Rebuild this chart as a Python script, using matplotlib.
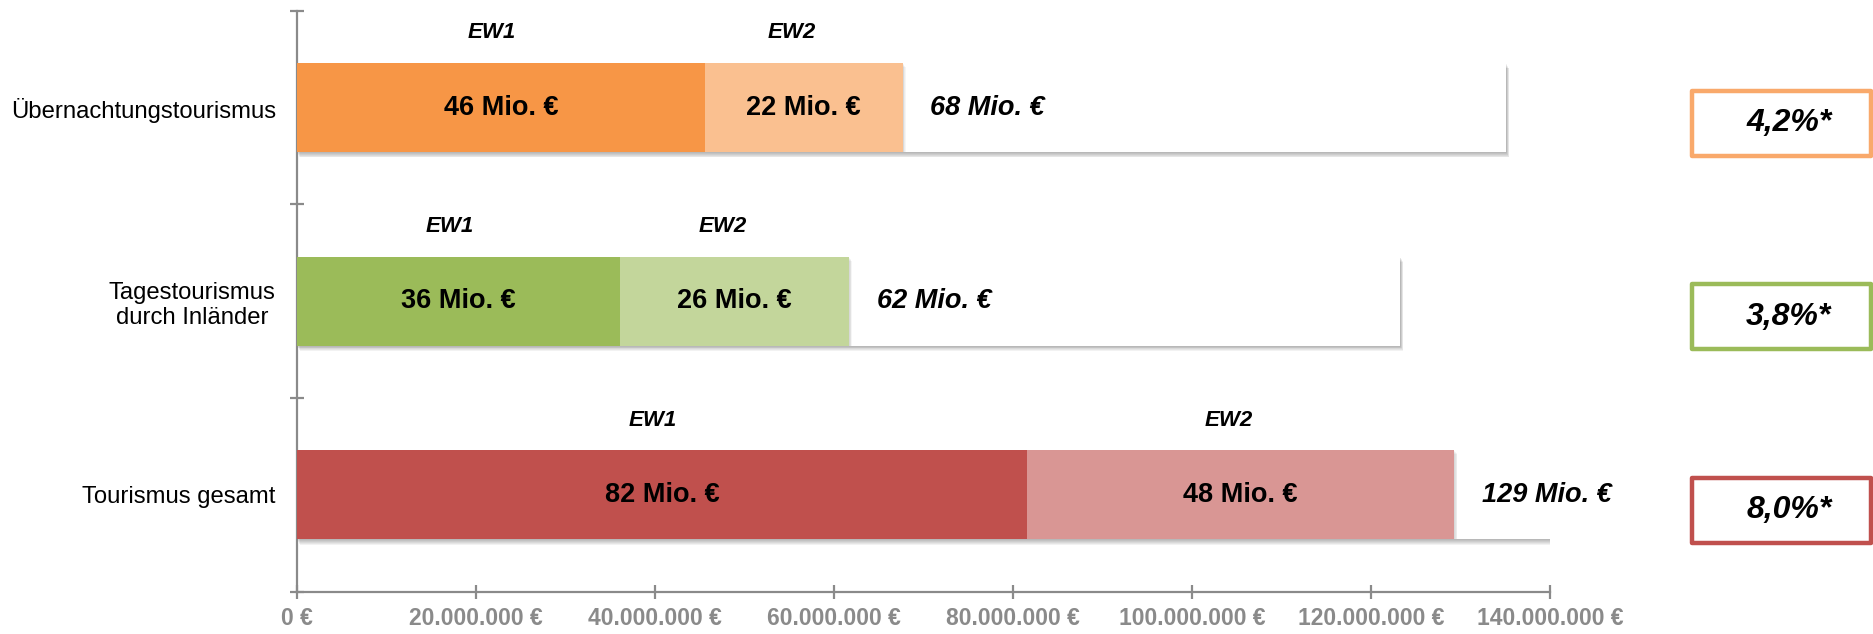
import matplotlib
matplotlib.use('Agg')
import matplotlib.pyplot as plt
from matplotlib.patches import Rectangle
from matplotlib.transforms import blended_transform_factory
from matplotlib.ticker import FuncFormatter

plt.rcParams['font.family'] = ['Liberation Sans', 'DejaVu Sans']

# data (bottom row first)
categories = ['Tourismus gesamt', 'Tagestourismus\ndurch Inländer', 'Übernachtungstourismus']
ew1 = [81.6e6, 36.1e6, 45.6e6]
ew2 = [47.7e6, 25.6e6, 22.1e6]
backdrop = [140.0e6, 123.3e6, 135.1e6]
ew1_labels = ['82 Mio. €', '36 Mio. €', '46 Mio. €']
ew2_labels = ['48 Mio. €', '26 Mio. €', '22 Mio. €']
total_labels = ['129 Mio. €', '62 Mio. €', '68 Mio. €']
shares = ['8,0%*', '3,8%*', '4,2%*']
xticks = [0, 20e6, 40e6, 60e6, 80e6, 100e6, 120e6, 140e6]

dark = ['#C0504D', '#9BBB59', '#F79646']
light = ['#D99694', '#C3D69B', '#FAC090']
frame = ['#C0504D', '#9BBB59', '#F9A96B']
grey = '#8A8A8A'

fig = plt.figure(figsize=(18.74, 6.34), dpi=100)
ax = fig.add_axes([0.1583, 0.0667, 0.6688, 0.9164])
ax.set_xlim(0, 140e6)
ax.set_ylim(-0.5, 2.5)

h = 0.46
px_x = 140e6 / (0.6688 * 1874)
px_y = 3.0 / (0.9164 * 634)
ys = list(range(len(categories)))

for i, y in enumerate(ys):
    # soft drop shadow under the white backdrop bar
    for k in range(1, 7):
        ax.barh(y - k * 0.9 * px_y, backdrop[i], left=k * 0.5 * px_x, height=h,
                color='black', alpha=0.05, linewidth=0, zorder=1)
    ax.barh(y, backdrop[i], height=h, color='white', linewidth=0, zorder=2)
    end = ew1[i] + ew2[i]
    for k in range(1, 5):
        ax.barh(y - 0.5 * k * px_y, k * 0.8 * px_x, left=end, height=h - k * px_y,
                color='black', alpha=0.04, linewidth=0, zorder=2.5)
    ax.barh(y, ew1[i], height=h, color=dark[i], linewidth=0, zorder=3)
    ax.barh(y, ew2[i], left=ew1[i], height=h, color=light[i], linewidth=0, zorder=3)

    ax.text(ew1[i] / 2, y, ew1_labels[i], ha='center', va='center',
            fontsize=19.5, fontweight='bold', zorder=4)
    ax.text(ew1[i] + ew2[i] / 2, y, ew2_labels[i], ha='center', va='center',
            fontsize=19.5, fontweight='bold', zorder=4)
    ax.text(end + 3.1e6, y, total_labels[i], ha='left', va='center',
            fontsize=19.5, fontweight='bold', fontstyle='italic', zorder=4)
    ax.text(ew1[i] / 2 - 1.0e6, y + 0.385, 'EW1', ha='center', va='center',
            fontsize=16, fontweight='bold', fontstyle='italic')
    ax.text(ew1[i] + ew2[i] / 2 - 1.3e6, y + 0.385, 'EW2', ha='center', va='center',
            fontsize=16, fontweight='bold', fontstyle='italic')

# share boxes on the right
trans = blended_transform_factory(fig.transFigure, ax.transData)
for i, y in enumerate(ys):
    yc = y - 0.08
    box = Rectangle((0.9029, yc - 0.168), 0.0955, 0.336, fill=False,
                    edgecolor=frame[i], linewidth=3.2, joinstyle='round',
                    transform=trans, clip_on=False)
    fig.add_artist(box)
    fig.text(0.9546, yc, shares[i], transform=trans,
             ha='center', va='center', fontsize=23, fontweight='bold', fontstyle='italic')

# axes styling
for s in ['top', 'right']:
    ax.spines[s].set_visible(False)
for s in ['left', 'bottom']:
    ax.spines[s].set_color(grey)
    ax.spines[s].set_linewidth(1.6)

ax.set_xticks(xticks)
ax.xaxis.set_major_formatter(FuncFormatter(lambda v, p: '{:,.0f} €'.format(v).replace(',', '.')))
ax.tick_params(axis='x', direction='inout', length=10, width=1.6, color=grey,
               labelcolor=grey, labelsize=16.5, pad=6)
for lab in ax.get_xticklabels():
    lab.set_fontweight('bold')

ax.set_yticks([-0.5, 0.5, 1.5, 2.5])
ax.set_yticklabels([])
ax.set_yticks(ys, minor=True)
ax.set_yticklabels(categories, minor=True, fontsize=17.2, multialignment='center')
ax.tick_params(axis='y', which='major', direction='inout', length=10, width=1.6, color=grey)
ax.tick_params(axis='y', which='minor', length=0, pad=15)

fig.savefig('out.png', dpi=100)
